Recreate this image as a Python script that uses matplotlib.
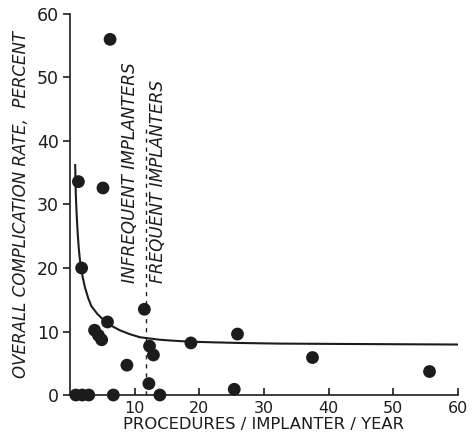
import matplotlib
matplotlib.use("Agg")
import matplotlib.pyplot as plt

# scatter points (procedures/implanter/year, complication %)
procedures = [0.9, 1.9, 2.9, 1.3, 1.8, 5.1, 6.2, 5.8, 3.8, 4.4, 4.9, 6.7,
              8.8, 11.5, 12.3, 12.9, 12.2, 13.9, 18.7, 25.9, 25.4, 37.5, 55.6]
complication = [0, 0, 0, 33.6, 20.0, 32.6, 56.0, 11.5, 10.2, 9.4, 8.7, 0,
                4.7, 13.5, 7.7, 6.3, 1.8, 0, 8.2, 9.6, 0.9, 5.9, 3.7]

# hand drawn trend curve
curve_x = [0.8, 0.9, 1.05, 1.2, 1.35, 1.5, 1.7, 2.0, 2.3, 2.8, 3.3, 4.2, 5.2,
           6.4, 7.7, 9.2, 10.8, 12.3, 13.9, 16.0, 18.5, 22.0, 26.0, 32.0,
           40.0, 50.0, 60.0]
curve_y = [36.2, 31.5, 28.0, 25.3, 23.2, 21.6, 20.0, 18.4, 17.0, 15.3, 14.0,
           12.8, 11.8, 10.9, 10.2, 9.6, 9.1, 8.9, 8.7, 8.55, 8.4, 8.3, 8.2,
           8.1, 8.05, 8.0, 7.95]

cutoff = 11.7  # infrequent / frequent boundary

ink = "#1c1c1c"

fig = plt.figure(figsize=(4.72, 4.36), dpi=100)
ax = fig.add_axes([0.1483, 0.094, 0.822, 0.874])

ax.plot(curve_x, curve_y, color=ink, lw=1.5, zorder=2)
ax.scatter(procedures, complication, s=85, color=ink, edgecolors="none",
           clip_on=False, zorder=3)
ax.plot([cutoff, cutoff], [0, 42], color=ink, lw=1.0, ls=(0, (3, 3.5)), zorder=1)

ax.text(9.3, 17.6, "INFREQUENT IMPLANTERS", rotation=90, ha="center",
        va="bottom", fontsize=12.2, style="italic", color=ink)
ax.text(13.6, 17.6, "FREQUENT IMPLANTERS", rotation=90, ha="center",
        va="bottom", fontsize=12.2, style="italic", color=ink)

ax.set_xlim(0, 60)
ax.set_ylim(0, 60)
ax.set_xticks([10, 20, 30, 40, 50, 60])
ax.set_yticks([0, 10, 20, 30, 40, 50, 60])

for side in ["top", "right"]:
    ax.spines[side].set_visible(False)
for side in ["left", "bottom"]:
    ax.spines[side].set_linewidth(1.2)
    ax.spines[side].set_color(ink)

ax.tick_params(axis="x", direction="in", length=5, width=1.2, pad=4,
               labelsize=11.5, colors=ink)
ax.tick_params(axis="y", direction="out", length=5, width=1.2, pad=3,
               labelsize=12.5, colors=ink)

ax.set_xlabel("PROCEDURES / IMPLANTER / YEAR", fontsize=11.8, color=ink,
              labelpad=1)
ax.set_ylabel("OVERALL COMPLICATION RATE,  PERCENT", fontsize=12,
              style="italic", color=ink, labelpad=5)

fig.savefig("out.png", dpi=100)
